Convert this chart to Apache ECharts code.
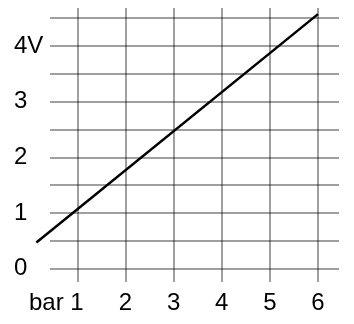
<!DOCTYPE html>
<html>
<head>
<meta charset="utf-8">
<script src="https://cdn.jsdelivr.net/npm/echarts@6/dist/echarts.min.js"></script>
<style>
html,body{margin:0;padding:0;background:#fff;}
#chart{width:354px;height:324px;}
</style>
</head>
<body>
<div id="chart"></div>
<script>
// Data
var xTicks = [1, 2, 3, 4, 5, 6];
var xLabels = ['bar 1', '2', '3', '4', '5', '6'];
var yGrid = [0, 0.5, 1, 1.5, 2, 2.5, 3, 3.5, 4, 4.5];
var yTicks = [0, 1, 2, 3, 4];
var yLabels = ['0', '1', '2', '3', '4V'];
var lineX = [0.15, 6];
var lineY = [0.47, 4.57];

var chart = echarts.init(document.getElementById('chart'), null, {renderer: 'canvas'});
var gridColor = 'rgba(0,0,0,0.5)';
var font = {fontFamily: '"Liberation Sans", Arial, sans-serif', fontSize: 24, color: '#000'};

var option = {
  animation: false,
  grid: [
    {left: 50, right: 15, top: 8, bottom: 42, containLabel: false},
    {left: 30, right: 15, top: 8, bottom: 42, containLabel: false}
  ],
  xAxis: [{
    type: 'value',
    gridIndex: 0,
    min: 0.433, max: 6.436,
    axisLine: {show: false},
    axisTick: {show: false, customValues: xTicks},
    splitLine: {show: true, lineStyle: {color: gridColor, width: 1.5}},
    axisLabel: {
      customValues: xTicks,
      margin: 9,
      formatter: function (v) {
        var i = xTicks.indexOf(v);
        if (i === 0) return '{u|bar }{n|1}{p|}';
        return i >= 0 ? xLabels[i] : '';
      },
      fontFamily: font.fontFamily, fontSize: font.fontSize, color: font.color,
      rich: {
        u: {fontFamily: font.fontFamily, fontSize: font.fontSize, color: font.color},
        n: {fontFamily: font.fontFamily, fontSize: font.fontSize, color: font.color},
        p: {width: 42}
      }
    }
  }, {
    type: 'value',
    gridIndex: 1,
    min: 0.0174, max: 6.436,
    show: false,
    splitLine: {show: false}
  }],
  yAxis: [{
    type: 'value',
    gridIndex: 0,
    min: -0.239, max: 4.68,
    axisLine: {show: false},
    axisTick: {show: false, customValues: yGrid},
    splitLine: {show: true, lineStyle: {color: gridColor, width: 1.5}},
    axisLabel: {
      customValues: yTicks,
      margin: 36,
      align: 'left',
      formatter: function (v) {
        var i = yTicks.indexOf(v);
        return i >= 0 ? yLabels[i] : '';
      },
      fontFamily: font.fontFamily, fontSize: font.fontSize, color: font.color
    }
  }, {
    type: 'value',
    gridIndex: 1,
    min: -0.239, max: 4.68,
    show: false,
    splitLine: {show: false}
  }],
  series: [{
    type: 'line',
    xAxisIndex: 1,
    yAxisIndex: 1,
    clip: false,
    data: lineX.map(function (x, i) { return [x, lineY[i]]; }),
    symbol: 'none',
    lineStyle: {color: '#000', width: 2.5},
    z: 5
  }]
};
chart.setOption(option);
</script>
</body>
</html>
